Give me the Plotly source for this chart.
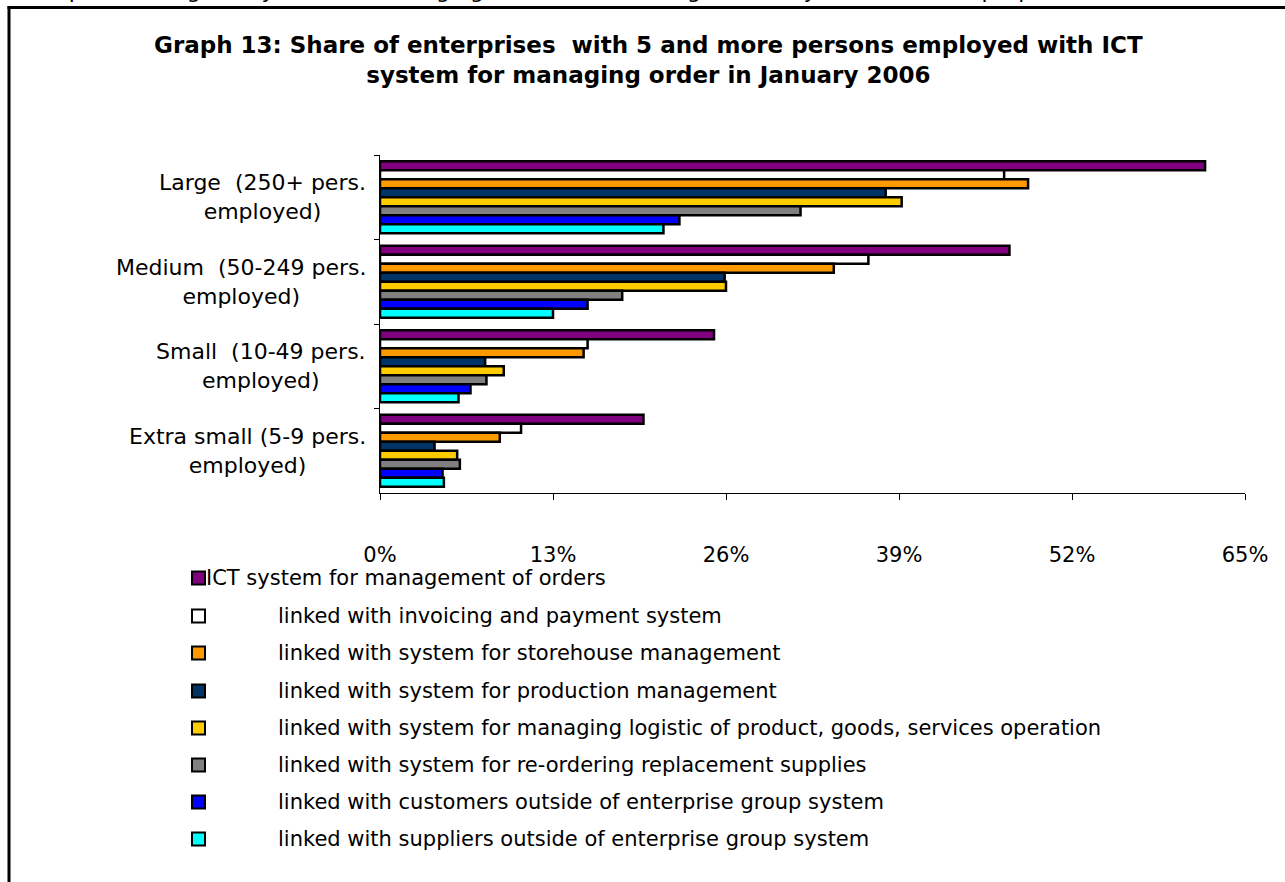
import plotly.graph_objects as go

# Enterprise size classes (top to bottom)
categories = [
    "Large  (250+ pers.<br>employed)",
    "Medium  (50-249 pers.<br>employed)",
    "Small  (10-49 pers.<br>employed)",
    "Extra small (5-9 pers.<br>employed)",
]

series_names = [
    "ICT system for management of orders",
    "linked with invoicing and payment system",
    "linked with system for storehouse management",
    "linked with system for production management",
    "linked with system for managing logistic of product, goods, services operation",
    "linked with system for re-ordering replacement supplies",
    "linked with customers outside of enterprise group system",
    "linked with suppliers outside of enterprise group system",
]

# Share of enterprises (%) per size class, one list per series
orders_mgmt = [62.0, 47.3, 25.1, 19.8]
invoicing = [46.9, 36.7, 15.6, 10.6]
storehouse = [48.7, 34.1, 15.3, 9.0]
production = [38.0, 25.9, 7.9, 4.1]
logistics = [39.2, 26.0, 9.3, 5.8]
reordering = [31.6, 18.2, 8.0, 6.0]
customers = [22.5, 15.6, 6.8, 4.7]
suppliers = [21.3, 13.0, 5.9, 4.8]

series_values = [orders_mgmt, invoicing, storehouse, production,
                 logistics, reordering, customers, suppliers]

colors = ["#800080", "#FFFFFF", "#FF9900", "#003366",
          "#FFCC00", "#808080", "#0000FF", "#00FFFF"]

tick_values = [0, 13, 26, 39, 52, 65]
tick_labels = ["0%", "13%", "26%", "39%", "52%", "65%"]

title_text = ("Graph 13: Share of enterprises  with 5 and more persons employed with ICT<br>"
              "system for managing order in January 2006")
header_text = ("enterprises using ICT system for managing order and the usage of ICT system "
               "for other purposes")

FONT = "DejaVu Sans, Arial, sans-serif"
W, H = 1285, 882
L, R, T, B = 380, 40, 155, 389
PW, PH = W - L - R, H - T - B


def px(x):
    return (x - L) / PW


def py(y):
    return (H - B - y) / PH


fig = go.Figure()
for name, vals, col in zip(series_names, series_values, colors):
    fig.add_trace(go.Bar(
        y=categories, x=vals, name=name, orientation="h",
        marker=dict(color=col, line=dict(color="#000000", width=2.5)),
        showlegend=False,
    ))

shapes = []
annotations = []

# category labels, centred two-line blocks to the left of the axis
for cat in categories:
    annotations.append(dict(
        x=0, xref="paper", y=cat, yref="y", xanchor="right", yanchor="middle",
        xshift=-12, text=cat, showarrow=False, align="center",
        font=dict(family=FONT, size=22, color="#000000"),
    ))

# title
annotations.append(dict(
    x=px(648), y=py(60), xref="paper", yref="paper", xanchor="center", yanchor="middle",
    text="<b>" + title_text + "</b>", showarrow=False, align="center",
    font=dict(family=FONT, size=23, color="#000000"),
))

# running header line, cut off at the page top
annotations.append(dict(
    x=px(8), y=py(5), xref="paper", yref="paper", xanchor="left", yanchor="bottom",
    text=header_text, showarrow=False, align="left",
    font=dict(family=FONT, size=22, color="#000000"),
))

# legend drawn as swatches and labels
row_y = [578, 616, 653, 691, 728, 765, 802, 839]
for i, (name, col) in enumerate(zip(series_names, colors)):
    yc = row_y[i]
    shapes.append(dict(
        type="rect", xref="paper", yref="paper",
        x0=px(192), x1=px(205), y0=py(yc - 6.5), y1=py(yc + 6.5),
        fillcolor=col, line=dict(color="#000000", width=2),
    ))
    annotations.append(dict(
        x=px(204 if i == 0 else 276), y=py(yc), xref="paper", yref="paper",
        xanchor="left", yanchor="middle", text=name, showarrow=False,
        font=dict(family=FONT, size=21, color="#000000"),
    ))

# page frame (top and left edges)
shapes.append(dict(type="line", xref="paper", yref="paper",
                   x0=px(7.5), x1=px(W + 5), y0=py(7.5), y1=py(7.5),
                   line=dict(color="#000000", width=3)))
shapes.append(dict(type="line", xref="paper", yref="paper",
                   x0=px(9), x1=px(9), y0=py(6), y1=py(H + 5),
                   line=dict(color="#000000", width=3)))

fig.update_layout(
    width=W, height=H,
    margin=dict(l=L, r=R, t=T, b=B, pad=0),
    paper_bgcolor="#FFFFFF", plot_bgcolor="#FFFFFF",
    barmode="group", bargap=0.148, bargroupgap=0,
    font=dict(family=FONT, size=21, color="#000000"),
    shapes=shapes, annotations=annotations,
    xaxis=dict(
        range=[0, 65], tickvals=tick_values, ticktext=tick_labels,
        showgrid=False, zeroline=False, showline=True, linecolor="#000000", linewidth=1,
        ticks="outside", ticklen=6, tickcolor="#000000", tickwidth=1,
        ticklabelstandoff=37,
        tickfont=dict(family=FONT, size=21, color="#000000"),
        fixedrange=True,
    ),
    yaxis=dict(
        categoryorder="array", categoryarray=categories, autorange="reversed",
        showticklabels=False, showgrid=False, zeroline=False,
        showline=True, linecolor="#000000", linewidth=1,
        ticks="outside", ticklen=5, tickcolor="#000000", tickwidth=1,
        tickson="boundaries", fixedrange=True,
    ),
)

fig.write_html("out.html", config={"displayModeBar": False})
